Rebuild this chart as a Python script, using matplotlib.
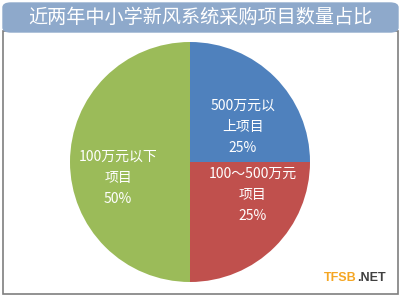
import matplotlib.pyplot as plt
from matplotlib.patches import FancyBboxPatch, Rectangle

plt.rcParams['font.family'] = ['Noto Sans CJK SC', 'DejaVu Sans']

# data
title = '近两年中小学新风系统采购项目数量占比'
categories = ['500万元以\n上项目', '100～500万元\n项目', '100万元以下\n项目']
shares = [25, 25, 50]
colors = ['#4F81BD', '#C0504D', '#9BBB59']

fig = plt.figure(figsize=(4, 3), dpi=100)
fig.patch.set_facecolor('white')

# header bar + frame (figure coords)
W, H = 400, 300
frame = Rectangle((3 / W, 6 / H), 395 / W, 263 / H, transform=fig.transFigure,
                  facecolor='white', edgecolor='#7F7F7F', linewidth=1.2, zorder=-2)
fig.patches.append(frame)
header = FancyBboxPatch((3 / W, 268 / H), 395 / W, 29 / H, transform=fig.transFigure,
                        boxstyle='round,pad=0,rounding_size=0.02',
                        facecolor='#8EA9CB', edgecolor='#8EA9CB', mutation_aspect=0.75,
                        zorder=-1)
fig.patches.append(header)
fig.text(0.5, 283 / H, title, ha='center', va='center', color='white',
         fontsize=13.8)

# pie
ax = fig.add_axes([70 / W, 18 / H, 240 / W, 240 / H])
wedges, texts, autotexts = ax.pie(
    shares, colors=colors, startangle=90, counterclock=False,
    autopct=lambda p: '', pctdistance=0.58,
    wedgeprops=dict(linewidth=0))
ax.set_xlim(-1, 1)
ax.set_ylim(-1, 1)
ax.set_aspect('equal')

# label nudges (x, y in data units)
nudges = [(0.03, -0.12), (0.11, 0.135), (-0.02, -0.13)]
for t, cat, s, (dx, dy) in zip(autotexts, categories, shares, nudges):
    x, y = t.get_position()
    t.set_position((x + dx, y + dy))
    t.set_text(f'{cat}\n{s}%')
    t.set_color('white')
    t.set_fontsize(10)
    t.set_ha('center')
    t.set_va('center')
    t.set_linespacing(1.65)

# watermark
fig.text(357 / W, 22 / H, 'TFSB', color='#F5A623', fontsize=9,
         fontweight='bold', family='Liberation Sans', ha='right', va='center')
fig.text(357 / W, 22 / H, '.NET', color='#404040', fontsize=9,
         fontweight='bold', family='Liberation Sans', ha='left', va='center')

fig.savefig('out.png', dpi=100)
